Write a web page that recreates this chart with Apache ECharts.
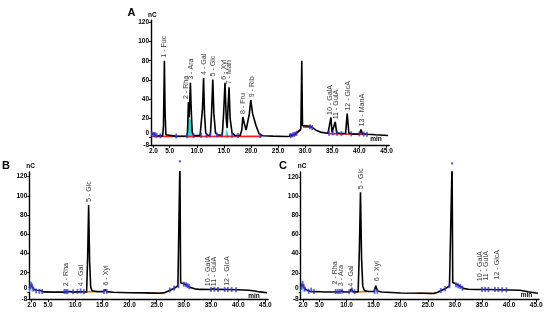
<!DOCTYPE html>
<html><head><meta charset="utf-8">
<script src="https://cdn.jsdelivr.net/npm/echarts@6/dist/echarts.min.js"></script>
<style>html,body{margin:0;padding:0;background:#fff}#c{width:550px;height:320px}</style>
</head><body><div id="c"></div>
<script>
// ---- axis ticks ----
const timeTicks = [2, 5, 10, 15, 20, 25, 30, 35, 40, 45];
const signalTicks = [-8, 0, 20, 40, 60, 80, 100, 120];

// ---- chromatogram traces [time (min), signal (nC)] ----
const traceA = [[1.6,3],[1.8,4.5],[1.95,2.5],[2.15,4.8],[2.35,2],[2.6,3.5],[2.8,1.8],[3.2,2.2],[3.7,1.8],[3.85,12],[4.02,80],[4.15,25],[4.3,3],[4.6,1.8],[6,1.6],[7.5,1.5],[8.2,1.8],[8.3,8],[8.45,37],[8.6,21],[8.68,22],[8.82,57],[8.98,28],[9.15,6],[9.4,2.2],[10.6,2.2],[10.9,4],[11.05,30],[11.25,62],[11.42,25],[11.65,5],[12.0,2.5],[12.5,2.8],[12.72,25],[12.95,60.5],[13.15,25],[13.45,5],[13.9,2.8],[14.7,2.8],[14.95,25],[15.2,57],[15.45,18],[15.6,10],[15.75,30],[15.95,52.5],[16.15,20],[16.5,5],[17,2.4],[18,2.3],[18.3,8],[18.5,21.5],[18.75,15],[19.1,8],[19.4,6],[19.7,25],[19.96,39],[20.3,25],[20.9,13],[21.5,4],[22.2,2],[24,1.6],[26.5,1.2],[27.1,1.5],[27.3,4],[27.5,1.8],[27.8,3.5],[28.1,3],[28.4,5],[28.8,6.5],[29.2,9],[29.37,80],[29.5,12.5],[29.8,11.5],[30.5,12.2],[31.0,11.8],[31.4,10.2],[32,7.8],[33,5.5],[34.2,4.6],[34.55,5],[34.75,21],[34.95,5.5],[35.3,5],[35.55,16.5],[35.8,5],[36.5,4.3],[37.45,4.5],[37.75,25],[38.05,5],[38.6,4],[39.6,3.8],[40.05,4.2],[40.3,8.5],[40.55,4],[41.5,3.6],[43,3],[44.5,2.6],[45.3,2.3]];
const traceB = [[1.55,4],[1.75,7.5],[1.95,8.5],[2.15,5],[2.4,2.5],[2.7,0.8],[3.0,1.8],[3.3,0.3],[3.8,1.2],[4.2,0],[6,-0.2],[7.8,-0.2],[8.1,1],[8.4,0],[9.0,0.5],[9.5,-0.2],[10.9,0],[11.1,1.6],[11.4,0],[12.1,0],[12.3,38],[12.47,90.5],[12.65,32],[12.85,5],[13.1,1.2],[14,0.3],[15.25,0.3],[15.5,2.5],[15.8,0.3],[17,-0.4],[20,-0.8],[23,-1],[25.5,-1.4],[26.5,-0.6],[27.5,1.8],[28.3,4],[28.9,6.5],[29.15,8],[29.27,136],[29.4,9.5],[29.7,8.5],[30.2,8],[30.7,6.5],[31.2,4.5],[32,3.2],[33,2.6],[35,2.5],[35.4,3.2],[35.8,2.6],[38,2.5],[40,2.3],[42,1.8],[43,1],[44,0],[45.3,-0.8]];
const traceC = [[1.55,4],[1.75,8.5],[1.95,9.5],[2.15,5],[2.5,2.5],[2.8,0.5],[3.2,0.8],[3.5,2.2],[3.8,0.3],[4.5,0.5],[6,0],[7.8,0],[8.1,1.2],[8.5,0],[9.1,1],[9.5,0],[10.6,0.2],[10.9,3.2],[11.2,0.2],[12.15,0.2],[12.38,45],[12.58,104],[12.78,35],[13.0,6],[13.3,1.5],[14,0.6],[15.1,0.6],[15.4,6.5],[15.7,1],[16.5,0],[20,-1],[24,-1.3],[26,-1.5],[26.8,-0.3],[27.6,1.8],[28.4,4],[29.0,6.5],[29.35,8.5],[29.48,134],[29.6,10],[29.9,8.5],[30.5,7.5],[31.0,5.8],[31.5,3.8],[32.5,2.9],[34,2.6],[36,2.6],[38,2.4],[40,2.1],[42,1.8],[43.5,0.2],[45.3,-1.2]];

// ---- peak annotations ----
const peakNamesA = ['1 - Fuc','2 - Rha','3 - Ara','4 - Gal','5 - Glc','6 - Xyl','7 - Man','8 - Fru','9 - Rib','10 - GalA','11 - GulA','12 - GlcA','13 - ManA'];
const peakTimesA = [4.02, 7.97, 9.0, 11.29, 13.06, 14.98, 15.87, 18.54, 20.26, 34.59, 35.7, 37.86, 40.44];
const peakHeightsA = [80, 37, 57, 62, 60.5, 57, 52.5, 21.5, 39, 20.5, 16, 25, 8.5];

const peakNamesB = ['2 - Rha','4 - Gal','5 - Glc','6 - Xyl','10 - GalA','11 - GulA','12 - GlcA'];
const peakTimesB = [8.23, 11.05, 12.58, 15.65, 34.5, 35.6, 37.87];
const peakHeightsB = [2.8, 2.8, 90.5, 3.5, 2.8, 2.8, 3.2];

const peakNamesC = ['2 - Rha','3 - Ara','4 - Gal','5 - Glc','6 - Xyl','10 - GalA','11 - GulA','12 - GlcA'];
const peakTimesC = [7.97, 9.08, 10.92, 12.72, 15.65, 34.72, 35.7, 37.86];
const peakHeightsC = [4.7, 2.9, 2.3, 104, 8.1, 8.1, 8.8, 9.9];

// ---- integration details ----
const delimitersA = [[1.7,4],[2.0,3.5],[2.3,3],[2.6,2.5],[3.3,2],[6.2,1.8],[8.2,2],[9.4,2.2],[10.8,2.5],[11.8,2.5],[12.5,2.8],[13.7,2.8],[14.6,2.8],[16.5,2.5],[17.6,2.3],[21.7,2.2],[27.3,2],[27.7,3],[28.0,3.5],[28.4,4.5],[30.9,11.5],[31.3,10.5],[34.4,4.6],[35.1,5],[35.9,4.6],[36.7,4.2],[38.5,4],[40.0,4],[40.8,3.8],[41.4,3.6]];
const delimitersB = [[1.7,5],[1.9,8],[2.1,6],[2.3,3],[2.8,1],[3.4,0.5],[3.9,0.5],[8.0,0.5],[8.3,0.5],[8.6,0.3],[9.6,0.3],[10.4,0.3],[11.0,1],[11.6,0.3],[15.3,0.5],[15.8,0.5],[27.4,2],[28.2,4],[29.0,6.5],[30.0,8],[30.4,7.5],[30.7,6.5],[31.0,5.5],[35.0,2.5],[35.6,2.8],[36.3,2.5],[37.5,2.5],[38.1,2.5],[38.8,2.5],[39.6,2.3]];
const delimitersC = [[1.7,5],[1.9,9],[2.1,6],[2.3,3],[3.0,0.8],[3.5,2],[4.0,0.5],[8.0,0.5],[8.4,0.5],[8.8,0.5],[9.2,0.8],[10.5,0.3],[11.0,2],[11.5,0.3],[15.2,0.6],[15.7,0.8],[27.4,1.5],[28.2,3.5],[29.0,6.5],[30.2,7.5],[30.6,6.5],[31.0,5.8],[31.4,4],[35.0,2.6],[35.6,2.8],[36.2,2.6],[37.4,2.5],[38.0,2.5],[38.7,2.4],[39.5,2.3]];
const apexMarksB = [[29.27, 136]];
const apexMarksC = [[29.48, 134]];

const baselinesA = [[[1.7,1.3],[22,1.4]], [[27.2,1.2],[29.2,8.5]], [[29.6,11.2],[31.3,10.6]], [[34.3,4.2],[41.6,3.3]]];
const baselinesB = [[[11.6,0],[13.6,0.2]], [[22.8,-1],[26.5,-1.5]]];
const baselinesC = [[[11.8,0],[13.8,0.4]], [[23,-1.2],[26.6,-1.5]]];

const fillsA = [[[8.3,2],[8.36,14],[8.42,21],[8.62,21],[8.72,22],[9.05,18],[9.2,2]], [[15.3,2.5],[15.42,9],[15.72,9],[15.85,2.5]]];
const fillsB = [[[1.55,0],[1.62,6],[2.2,6],[2.3,0]]];
const fillsC = [[[1.55,0],[1.62,7],[2.2,7],[2.3,0]]];

// ---- layout ----
const FONT = 'Arial, "Liberation Sans", sans-serif';
const grids = [
  {left: 151, top: 20.3, width: 238.2, height: 125.1},
  {left: 29.3, top: 171.9, width: 238.8, height: 127.7},
  {left: 300.7, top: 172, width: 238.2, height: 127.7}
];
const yMax = [122, 125, 125];

const xAxes = grids.map((g, i) => ({
  type: 'value', gridIndex: i, min: 1.55, max: 45.5,
  axisLine: {onZero: false, lineStyle: {color: '#000', width: 1.4}},
  axisTick: {customValues: timeTicks, length: 2.5, lineStyle: {color: '#000', width: 1}},
  axisLabel: {customValues: timeTicks, formatter: v => v.toFixed(1), fontSize: 6.5, fontWeight: 'bold', color: '#000', margin: 2.5, fontFamily: FONT},
  splitLine: {show: false}
}));
const yAxes = grids.map((g, i) => ({
  type: 'value', gridIndex: i, min: -8, max: yMax[i],
  name: 'nC', nameLocation: 'end', nameGap: 2,
  nameTextStyle: {fontSize: 6.5, fontWeight: 'bold', color: '#000', align: 'left', padding: [0,0,0,-3], fontFamily: FONT},
  axisLine: {show: true, lineStyle: {color: '#000', width: 1.4}},
  axisTick: {show: true, customValues: signalTicks, length: 2, lineStyle: {color: '#000', width: 1}},
  axisLabel: {customValues: signalTicks, fontSize: 6.5, fontWeight: 'bold', color: '#000', margin: 2, fontFamily: FONT,
    formatter: v => v === 0 ? '{z|0}' : String(v),
    rich: {z: {fontSize: 6.5, fontWeight: 'bold', color: '#000', padding: [0,0,8,0], fontFamily: FONT}}},
  splitLine: {show: false}
}));

function panelSeries(i, trace, baselines, blColor, fills, fillColor, delims, apexMarks, names, times, heights) {
  const s = [];
  fills.forEach(f => s.push({type: 'line', xAxisIndex: i, yAxisIndex: i, data: f, symbol: 'none', silent: true,
    lineStyle: {width: 0}, areaStyle: {color: fillColor, opacity: 1}, z: 1}));
  baselines.forEach(b => s.push({type: 'line', xAxisIndex: i, yAxisIndex: i, data: b, symbol: 'none', silent: true,
    lineStyle: {color: blColor, width: 1.6}, z: 2}));
  s.push({type: 'line', xAxisIndex: i, yAxisIndex: i, data: trace, symbol: 'none', clip: true,
    lineStyle: {color: '#000', width: 1.6}, z: 3});
  s.push({type: 'scatter', xAxisIndex: i, yAxisIndex: i, data: delims, symbol: 'rect', symbolSize: [1.8, 5],
    itemStyle: {color: '#3a3ad8'}, z: 4});
  if (apexMarks.length) s.push({type: 'scatter', xAxisIndex: i, yAxisIndex: i, data: apexMarks, symbol: 'rect', symbolSize: [2.2, 2.2],
    itemStyle: {color: '#3a3ad8'}, clip: false, z: 4});
  s.push({type: 'scatter', xAxisIndex: i, yAxisIndex: i, symbolSize: 1, itemStyle: {color: 'rgba(0,0,0,0)'}, z: 5,
    data: names.map((n, k) => ({name: n, value: [times[k], heights[k]]})),
    label: {show: true, position: 'top', distance: 2.5, rotate: 90, align: 'left', verticalAlign: 'middle',
      formatter: p => p.name, fontSize: 7.1, color: '#000', fontFamily: FONT}});
  return s;
}

const series = [].concat(
  panelSeries(0, traceA, baselinesA, '#ff1a1a', fillsA, '#2fd6d6', delimitersA, [], peakNamesA, peakTimesA, peakHeightsA),
  panelSeries(1, traceB, baselinesB, '#e0801a', fillsB, '#9fe4ff', delimitersB, apexMarksB, peakNamesB, peakTimesB, peakHeightsB),
  panelSeries(2, traceC, baselinesC, '#e0801a', fillsC, '#9fe4ff', delimitersC, apexMarksC, peakNamesC, peakTimesC, peakHeightsC)
);

const txt = (t, x, y, size) => ({type: 'text', x: x, y: y, silent: true,
  style: {text: t, align: 'center', verticalAlign: 'middle', font: 'bold ' + size + 'px ' + FONT, fill: '#000'}});

const chart = echarts.init(document.getElementById('c'), null, {renderer: 'canvas'});
chart.setOption({
  animation: false,
  backgroundColor: '#fff',
  grid: grids,
  xAxis: xAxes,
  yAxis: yAxes,
  series: series,
  graphic: [
    txt('A', 131.5, 12.5, 11), txt('B', 6, 165.5, 11), txt('C', 283, 165.5, 11),
    txt('min', 376, 139.5, 6.5), txt('min', 254, 296, 6.5), txt('min', 526.5, 295.5, 6.5)
  ]
});
</script></body></html>
